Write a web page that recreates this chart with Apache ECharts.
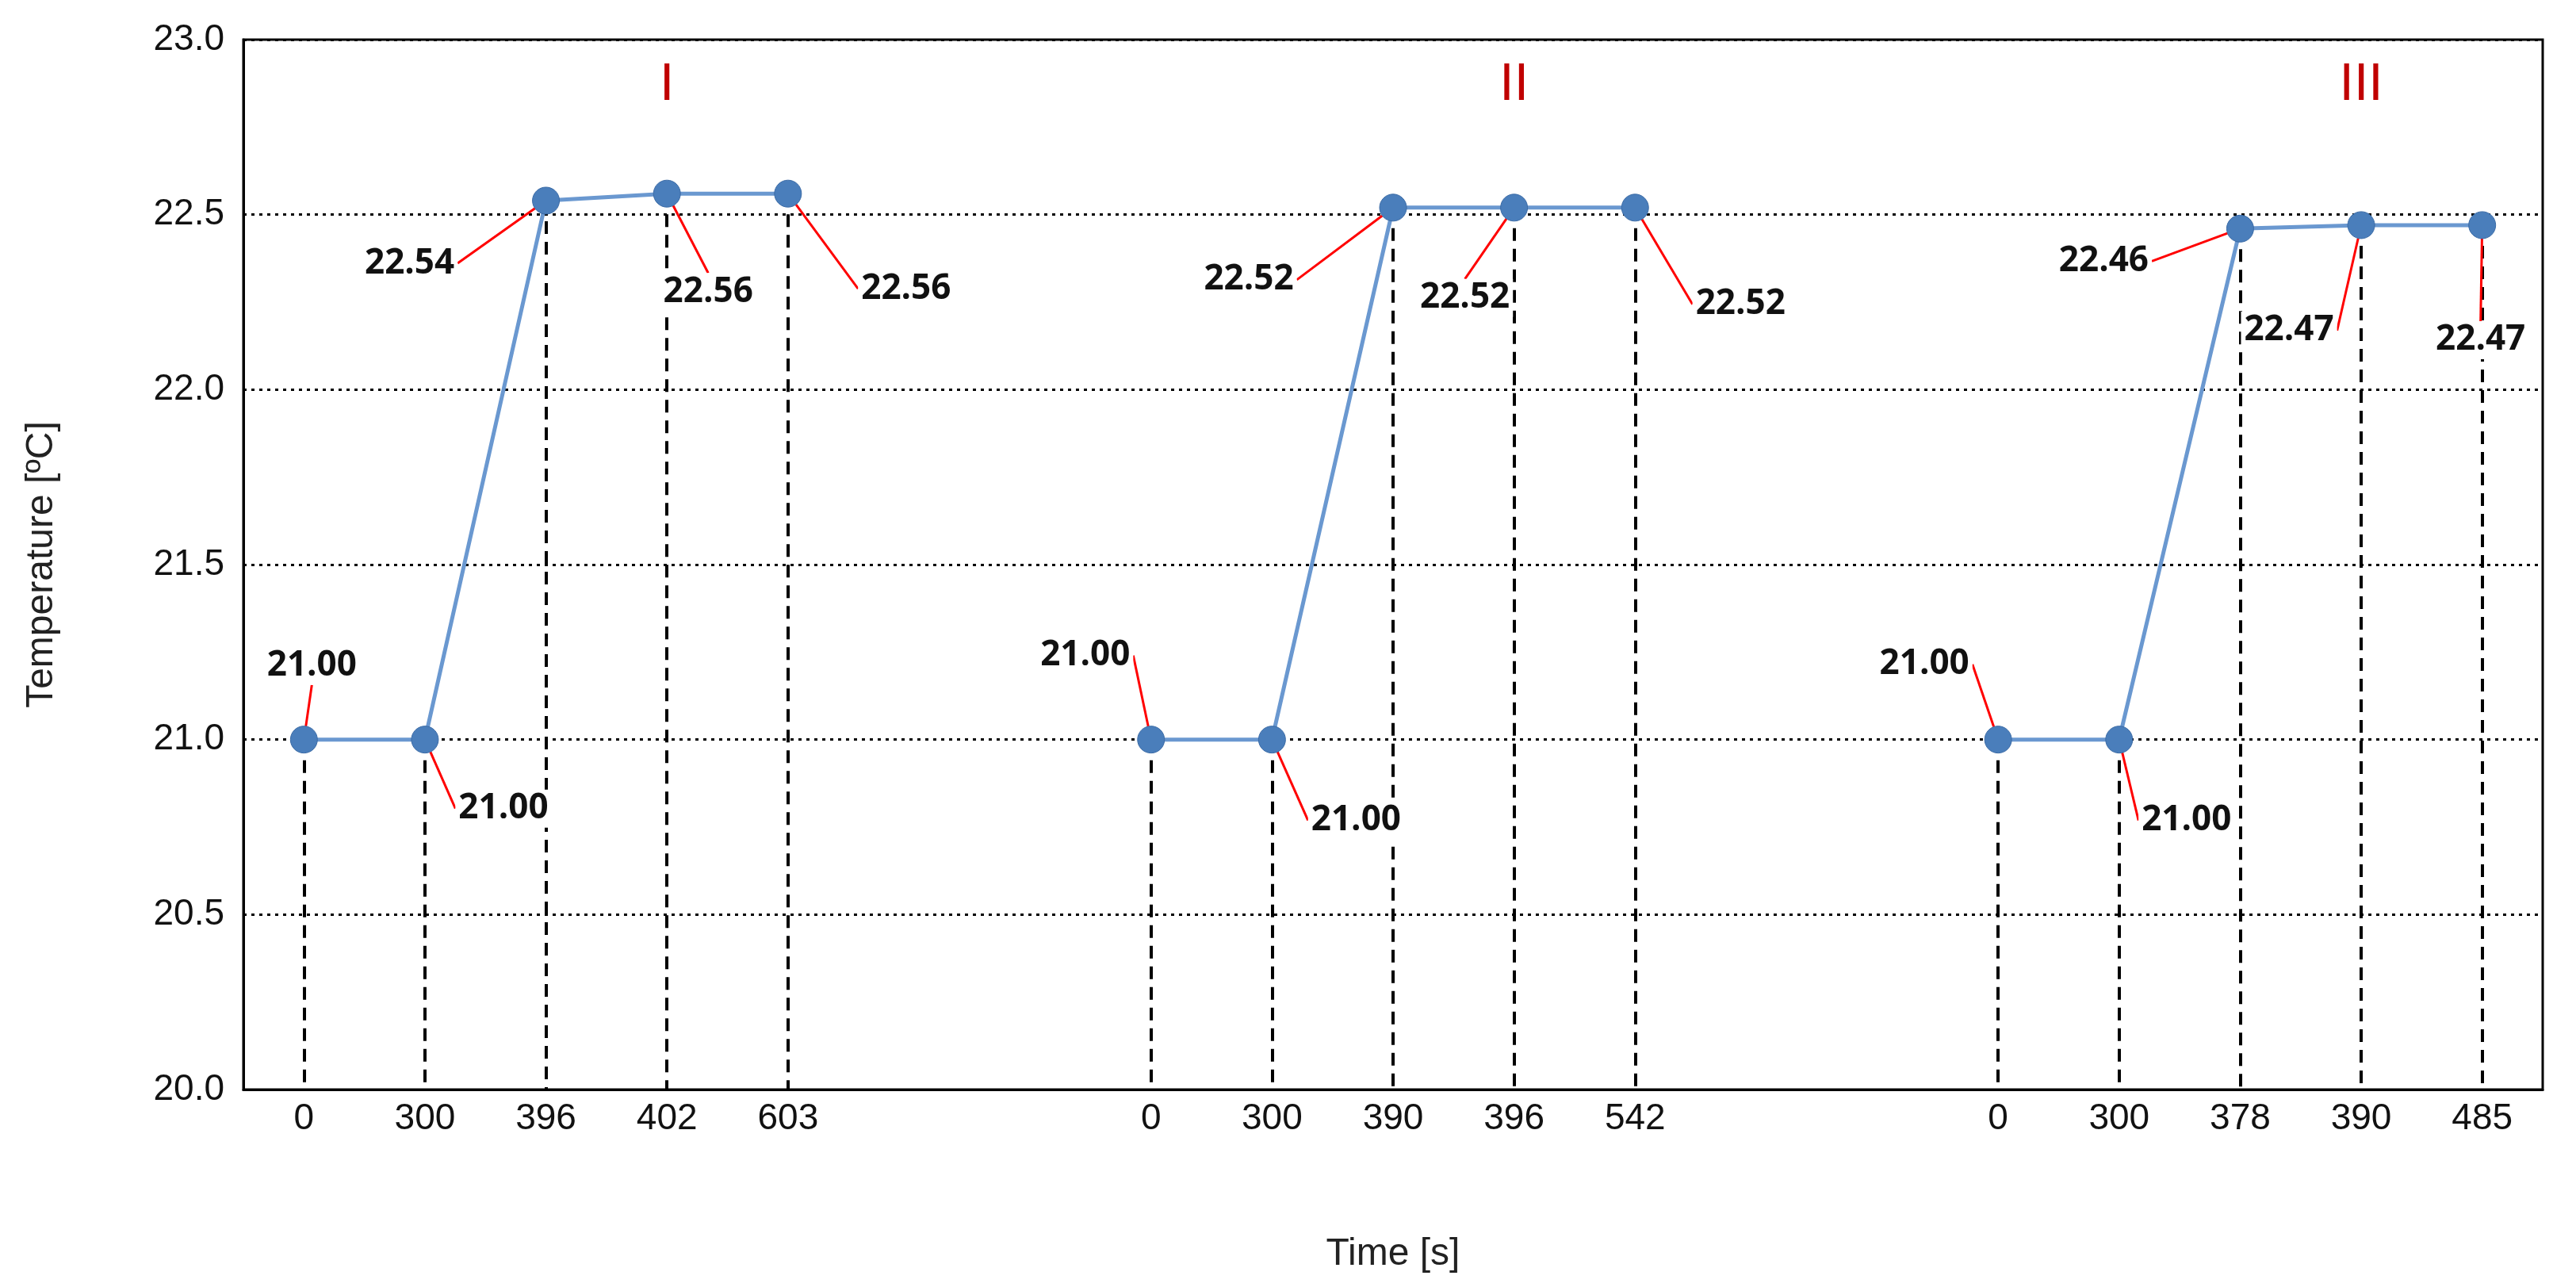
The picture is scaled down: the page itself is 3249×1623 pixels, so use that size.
<!DOCTYPE html>
<html><head><meta charset="utf-8">
<script src="https://cdn.jsdelivr.net/npm/echarts@6/dist/echarts.min.js"></script>
<style>html,body{margin:0;padding:0;background:#fff}#c{width:3249px;height:1623px}</style>
</head><body><div id="c"></div>
<script>
const categories = ['0','300','396','402','603','','','0','300','390','396','542','','','0','300','378','390','485'];
const seriesI   = [21.00,21.00,22.54,22.56,22.56];
const seriesII  = [21.00,21.00,22.52,22.52,22.52];
const seriesIII = [21.00,21.00,22.46,22.47,22.47];
const groupNames = ['I','II','III'];
const groupStart = [0,7,14];
const labelOffsets = [
  [[10,-93],[99,87],[-172,79],[52,124],[149,120]],
  [[-83,-106],[106,102],[-182,91],[-62,114],[133,122]],
  [[-93,-95],[85,102],[-172,41],[-91,133],[-2,145]]
];
const groups = [seriesI, seriesII, seriesIII];

const series = groups.map((vals, g) => {
  const data = categories.map(() => null);
  vals.forEach((v, k) => { data[groupStart[g] + k] = v; });
  return {
    type: 'line', data, connectNulls: false, symbol: 'circle', symbolSize: 34,
    itemStyle: { color: '#4a7ebb', borderColor: '#3a6aa5', borderWidth: 1 },
    lineStyle: { color: '#6a98d0', width: 5 },
    z: 5,
    label: { show: true, position: 'inside', formatter: p => p.value.toFixed(2), fontSize: 44, fontWeight: 'bold',
      color: '#111', fontFamily: 'Open Sans', backgroundColor: '#fff', padding: [2,4] },
    labelLine: { show: true, lineStyle: { color: '#ff0000', width: 3 } },
    labelLayout: p => {
      const idx = p.dataIndex - groupStart[g];
      const o = labelOffsets[g][idx] || [0,0];
      return { dx: o[0], dy: o[1] };
    },
    markLine: {
      silent: true, symbol: 'none', label: { show: false },
      lineStyle: { color: '#000', type: [16,10], width: 4 },
      z: 1,
      data: vals.map((v, k) => [{ coord: [groupStart[g] + k, v] }, { coord: [groupStart[g] + k, 20] }])
    },
    markPoint: {
      symbol: 'circle', symbolSize: 2, itemStyle: { color: 'rgba(0,0,0,0)' },
      label: { show: true, position: 'inside', formatter: groupNames[g], fontSize: 66, color: '#c00000', fontFamily: 'Liberation Sans' },
      data: [{ coord: [groupStart[g] + 3, 22.87] }]
    }
  };
});

const chart = echarts.init(document.getElementById('c'));
chart.setOption({
  animation: false,
  grid: { left: 307, right: 42, top: 50, bottom: 249 },
  xAxis: {
    type: 'category', data: categories, boundaryGap: true,
    name: 'Time [s]', nameLocation: 'middle', nameGap: 184,
    nameTextStyle: { fontSize: 48, color: '#222', fontFamily: 'Liberation Sans' },
    axisLine: { show: true, lineStyle: { color: '#000', width: 3 } },
    axisTick: { show: false },
    axisLabel: { fontSize: 46, color: '#111', margin: 14, fontFamily: 'Liberation Sans', interval: 0 }
  },
  yAxis: {
    type: 'value', min: 20, max: 23, interval: 0.5,
    name: 'Temperature [ºC]', nameLocation: 'middle', nameGap: 230, nameRotate: 90,
    nameTextStyle: { fontSize: 48, color: '#222', fontFamily: 'Liberation Sans' },
    axisLine: { show: true, lineStyle: { color: '#000', width: 3 } },
    axisTick: { show: false },
    axisLabel: { fontSize: 46, color: '#111', margin: 24, fontFamily: 'Liberation Sans', formatter: v => v.toFixed(1) },
    splitLine: { show: true, lineStyle: { color: '#000', type: [4,6], width: 3 } }
  },
  series
});
const w = 3249 - 307 - 42;
chart.setOption({ graphic: [{ type: 'rect', shape: { x: 307, y: 50, width: w, height: 1623 - 50 - 249 },
  style: { fill: 'none', stroke: '#000', lineWidth: 3 }, silent: true, z: 0 }] });
</script></body></html>
